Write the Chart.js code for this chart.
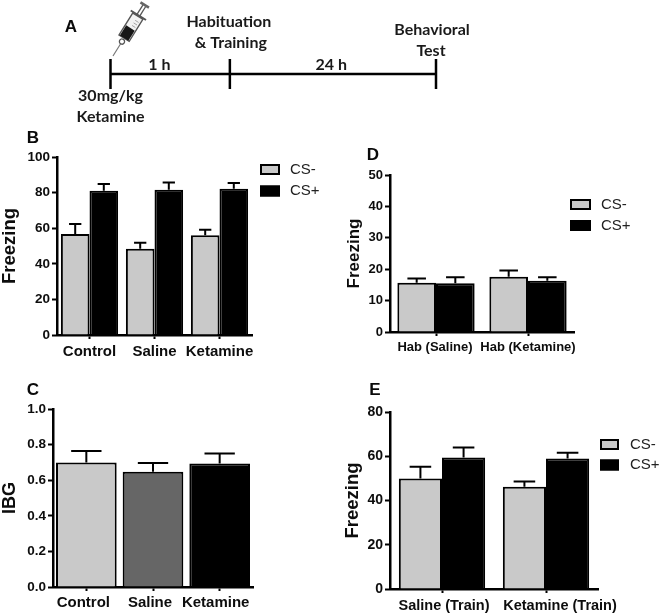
<!DOCTYPE html>
<html><head><meta charset="utf-8">
<script src="https://cdn.jsdelivr.net/npm/chart.js@4"></script>
<style>
html,body{margin:0;padding:0;background:#fff;width:661px;height:615px;overflow:hidden}
#page{position:relative;width:661px;height:615px;filter:blur(0.35px)}
canvas{position:absolute}
svg{position:absolute;left:0;top:0}
.tag{position:absolute;font:bold 17px "Liberation Sans",Arial,sans-serif;color:#0a0a0a;line-height:20px;transform:translate(-50%,-50%)}
</style></head><body>
<div id="page">
<canvas id="timeline"></canvas>
<canvas id="panelB"></canvas>
<canvas id="panelC"></canvas>
<canvas id="panelD"></canvas>
<canvas id="panelE"></canvas>
<svg width="661" height="70" viewBox="0 0 661 70">
 <g transform="translate(113,56) rotate(31.9)" stroke="#555" fill="none">
  <line x1="0" y1="0" x2="0" y2="-15" stroke="#777" stroke-width="1.2"/>
  <circle cx="0" cy="-17" r="2.6" stroke-width="1.3"/>
  <path d="M-6 -21 L6 -21 L6 -47 L-6 -47 Z" stroke-width="1.4" fill="#f2f2f2"/>
  <rect x="-5" y="-33" width="10" height="12" fill="#161616" stroke="none"/>
  <line x1="-9" y1="-48" x2="9" y2="-48" stroke-width="2"/>
  <line x1="-1.6" y1="-48" x2="-1.6" y2="-59" stroke-width="1.3"/>
  <line x1="1.6" y1="-48" x2="1.6" y2="-59" stroke-width="1.3"/>
  <line x1="-5" y1="-60" x2="5" y2="-60" stroke-width="2.6" stroke="#666"/>
  <g stroke="#999" stroke-width=".8"><line x1="0" y1="-36" x2="4" y2="-36"/><line x1="0" y1="-39" x2="4" y2="-39"/><line x1="0" y1="-42" x2="4" y2="-42"/></g>
 </g>
</svg>
<div class="tag" style="left:71px;top:27px">A</div>
<div class="tag" style="left:33px;top:138px">B</div>
<div class="tag" style="left:373px;top:155px">D</div>
<div class="tag" style="left:33px;top:390px">C</div>
<div class="tag" style="left:375px;top:390px">E</div>
</div>
<script>
// ---------- data ----------
const seriesNames = ['CS-', 'CS+'];

const catsB = ['Control', 'Saline', 'Ketamine'];
const bMinus = [56.7, 48.4, 56.1];
const bMinusTop = [62.3, 51.8, 59.1];
const bPlus = [81, 81.6, 82.2];
const bPlusTop = [84.8, 85.7, 85.4];

const catsC = ['Control', 'Saline', 'Ketamine'];
const cValues = [0.70, 0.647, 0.694];
const cTops = [0.764, 0.696, 0.75];

const catsD = ['Hab (Saline)', 'Hab (Ketamine)'];
const dMinus = [15.7, 17.6];
const dMinusTop = [17, 19.6];
const dPlus = [15.5, 16.3];
const dPlusTop = [17.4, 17.4];

const catsE = ['Saline (Train)', 'Ketamine (Train)'];
const eMinus = [50, 46.2];
const eMinusTop = [55.3, 48.6];
const ePlus = [59.4, 59];
const ePlusTop = [64, 61.6];

const timelineStops = [0, 1, 2.727];
const intervalLabels = ['1 h', '24 h'];
const intervalCentres = [0.41, 1.85];

// ---------- style ----------
const GREY = '#c9c9c9', DARK = '#666666', BLACK = '#000000', INK = '#0d0d0d';
const ARIAL = '"Liberation Sans",Arial,sans-serif';

const errorBars = {
  id: 'errorBars',
  afterDatasetsDraw(chart, args, opts) {
    const c = chart.ctx, y = chart.scales.y;
    c.save();
    c.strokeStyle = BLACK; c.lineWidth = 2;
    chart.data.datasets.forEach((ds, i) => {
      chart.getDatasetMeta(i).data.forEach((bar, j) => {
        const top = y.getPixelForValue(ds.errTop[j]);
        const half = bar.width * opts.cap / 2;
        c.beginPath();
        c.moveTo(bar.x, bar.y); c.lineTo(bar.x, top);
        c.moveTo(bar.x - half, top); c.lineTo(bar.x + half, top);
        c.stroke();
      });
    });
    c.restore();
  }
};

const boxLegend = {
  id: 'boxLegend',
  afterDraw(chart, args, opts) {
    if (!opts.show) return;
    const c = chart.ctx;
    c.save();
    c.font = '15px ' + ARIAL; c.textBaseline = 'middle'; c.textAlign = 'left';
    chart.data.datasets.forEach((ds, i) => {
      const y = opts.y + i * opts.step;
      c.fillStyle = ds.backgroundColor; c.strokeStyle = BLACK; c.lineWidth = 2;
      c.fillRect(opts.x, y, opts.w, opts.h);
      c.strokeRect(opts.x + 1, y + 1, opts.w - 2, opts.h - 2);
      c.fillStyle = '#222';
      c.fillText(ds.label, opts.x + opts.w + opts.gap, y + opts.h / 2);
    });
    c.restore();
  }
};

// the source figure's category labels sit slightly off their tick marks
const labelNudge = {
  id: 'labelNudge',
  beforeDraw(chart, args, opts) {
    chart.scales.x.getLabelItems().forEach((item, i) => {
      item.options.translation[0] += opts.dx[i] || 0;
    });
  }
};

function panel(id, g) {
  const cv = document.getElementById(id);
  cv.width = g.box[2]; cv.height = g.box[3];
  cv.style.left = g.box[0] + 'px'; cv.style.top = g.box[1] + 'px';
  const [bx, by, bw, bh] = g.box;
  return new Chart(cv, {
    type: 'bar',
    data: { labels: g.labels, datasets: g.datasets },
    plugins: [errorBars, boxLegend, labelNudge],
    options: {
      responsive: false, animation: false, devicePixelRatio: 1,
      layout: { autoPadding: false, padding: { top: g.top - by, right: bx + bw - g.right, left: 0, bottom: 0 } },
      datasets: { bar: { categoryPercentage: g.cat, barPercentage: 1, borderWidth: 2, borderColor: BLACK } },
      plugins: {
        legend: { display: false }, tooltip: { enabled: false }, title: { display: false },
        errorBars: { cap: g.cap },
        labelNudge: { dx: g.nudge },
        boxLegend: g.legend ? { show: true, x: g.legend[0] - bx, y: g.legend[1] - by, w: g.legend[2], h: g.legend[3], step: g.legend[4], gap: g.legend[5] } : { show: false }
      },
      scales: {
        x: {
          grid: { drawOnChartArea: false, drawTicks: true, tickLength: 4, tickWidth: 2, color: BLACK, offset: false },
          border: { color: BLACK, width: 2.5 },
          afterFit(s) { s.height = by + bh - g.bottom; },
          ticks: { color: INK, font: { family: ARIAL, weight: 'bold', size: g.xFont }, autoSkip: false, maxRotation: 0, minRotation: 0, padding: g.xPad }
        },
        y: {
          min: 0, max: g.max,
          grid: { drawOnChartArea: false, drawTicks: true, tickLength: 5, tickWidth: 2, color: BLACK },
          border: { color: BLACK, width: 2.5 },
          afterFit(s) { s.width = g.left - bx; },
          title: { display: true, text: g.yTitle, color: INK, font: { family: ARIAL, weight: 'bold', size: g.titleFont, lineHeight: 1 }, padding: { top: g.titleX - bx - g.titleFont / 2, bottom: 0 } },
          ticks: { stepSize: g.step, color: INK, font: { family: ARIAL, weight: 'bold', size: g.yFont }, padding: 2, callback: g.fmt || (v => v) }
        }
      }
    }
  });
}

function pair(minus, minusTop, plus, plusTop) {
  return [
    { label: seriesNames[0], data: minus, errTop: minusTop, backgroundColor: GREY },
    { label: seriesNames[1], data: plus, errTop: plusTop, backgroundColor: BLACK }
  ];
}

panel('panelB', {
  box: [0, 145, 330, 225], top: 157, bottom: 335, left: 57, right: 252, max: 100, step: 20,
  labels: catsB, datasets: pair(bMinus, bMinusTop, bPlus, bPlusTop),
  cat: 0.88, cap: 0.43, xFont: 15, yFont: 13.5, xPad: 4, titleFont: 18.5, titleX: 10, yTitle: 'Freezing',
  legend: [260, 164, 20, 11, 21.5, 10], nudge: [0, 0, 0]
});
panel('panelD', {
  box: [340, 165, 321, 195], top: 175, bottom: 332, left: 390, right: 574, max: 50, step: 10,
  labels: catsD, datasets: pair(dMinus, dMinusTop, dPlus, dPlusTop),
  cat: 0.84, cap: 0.48, xFont: 13, yFont: 13, xPad: 4, titleFont: 17, titleX: 354, yTitle: 'Freezing',
  legend: [570, 199, 21, 11, 21, 10], nudge: [-1, 0]
});
panel('panelC', {
  box: [0, 398, 300, 217], top: 409, bottom: 587, left: 53, right: 253, max: 1, step: 0.2,
  labels: catsC,
  datasets: [{ label: 'IBG', data: cValues, errTop: cTops, backgroundColor: [GREY, DARK, BLACK] }],
  cat: 0.91, cap: 0.5, xFont: 15, yFont: 13.5, xPad: 3, titleFont: 18, titleX: 10, yTitle: 'IBG',
  fmt: v => Number(v).toFixed(1), nudge: [-3, -3, -4]
});
panel('panelE', {
  box: [340, 400, 321, 215], top: 412, bottom: 589, left: 390, right: 598, max: 80, step: 20,
  labels: catsE, datasets: pair(eMinus, eMinusTop, ePlus, ePlusTop),
  cat: 0.83, cap: 0.5, xFont: 14.5, yFont: 14, xPad: 4, titleFont: 18.5, titleX: 353, yTitle: 'Freezing',
  legend: [600, 439, 19, 11, 20.5, 11], nudge: [2, 14]
});

// ---------- timeline (panel A) ----------
const timelineText = {
  id: 'timelineText',
  afterDraw(chart) {
    const c = chart.ctx, x = chart.scales.x;
    c.save();
    c.font = 'bold 16px Lato,sans-serif'; c.fillStyle = '#1a1a1a';
    c.textAlign = 'center'; c.textBaseline = 'middle';
    const put = (t, v, dx, y) => c.fillText(t, x.getPixelForValue(v) + dx, y);
    intervalLabels.forEach((t, i) => put(t, intervalCentres[i], 0, 65));
    put('30mg/kg', timelineStops[0], 0, 96);
    put('Ketamine', timelineStops[0], 0, 117);
    put('Habituation', timelineStops[1], -1, 22);
    put('& Training', timelineStops[1], 1, 43);
    put('Behavioral', timelineStops[2], -4, 30);
    put('Test', timelineStops[2], -5, 51);
    c.restore();
  }
};
(function () {
  const cv = document.getElementById('timeline');
  cv.width = 661; cv.height = 135;
  cv.style.left = '0px'; cv.style.top = '0px';
  new Chart(cv, {
    type: 'scatter',
    data: { datasets: [{
      data: timelineStops.map(v => ({ x: v, y: 0 })),
      showLine: true, borderColor: BLACK, borderWidth: 2.5,
      pointStyle: 'line', rotation: 90, radius: 15, pointBorderWidth: 2.5,
      pointBorderColor: BLACK, clip: false
    }] },
    plugins: [timelineText],
    options: {
      responsive: false, animation: false, devicePixelRatio: 1,
      layout: { autoPadding: false, padding: { left: 110.5, right: 225, top: 59, bottom: 46 } },
      plugins: { legend: { display: false }, tooltip: { enabled: false } },
      scales: {
        x: { type: 'linear', display: false, min: 0, max: 2.727 },
        y: { type: 'linear', display: false, min: -1, max: 1 }
      }
    }
  });
})();
</script>
</body></html>
